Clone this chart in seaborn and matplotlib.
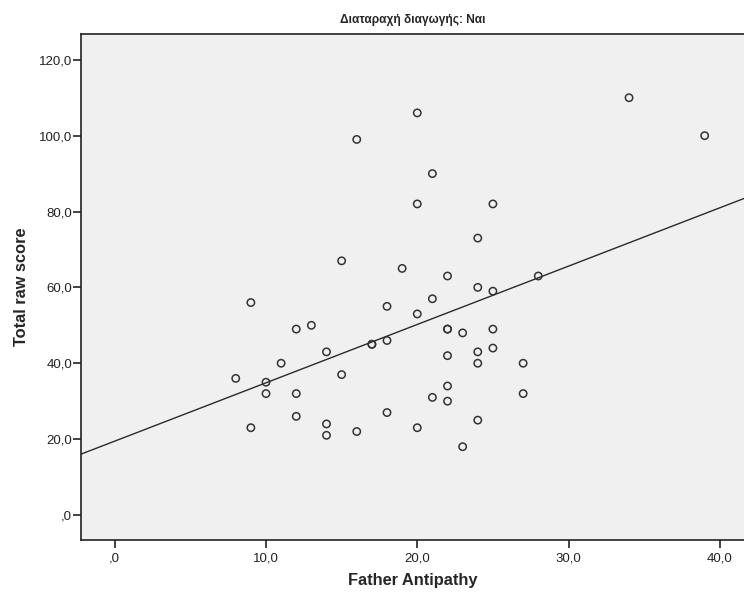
import numpy as np
import pandas as pd
import matplotlib
matplotlib.use("Agg")
import matplotlib.pyplot as plt
from matplotlib.ticker import FuncFormatter
import seaborn as sns

# Father Antipathy vs Total raw score (group: conduct disorder = yes)
father_antipathy = [8, 9, 9, 10, 10, 11, 12, 12, 12, 13, 14, 14, 14, 15, 15, 16, 16, 17, 17,
                    18, 18, 18, 19, 20, 20, 20, 20, 21, 21, 21, 22, 22, 22, 22, 22, 22,
                    23, 23, 24, 24, 24, 24, 24, 25, 25, 25, 25, 27, 27, 28, 34, 39]
total_raw_score = [36, 56, 23, 35, 32, 40, 49, 32, 26, 50, 43, 24, 21, 67, 37, 99, 22, 45, 45,
                   55, 46, 27, 65, 106, 82, 53, 23, 90, 57, 31, 63, 49, 49, 42, 34, 30,
                   48, 18, 73, 60, 43, 40, 25, 82, 59, 49, 44, 40, 32, 63, 110, 100]

x_ticks = [0, 10, 20, 30, 40]
y_ticks = [0, 20, 40, 60, 80, 100, 120]

df = pd.DataFrame({"Father Antipathy": father_antipathy,
                   "Total raw score": total_raw_score})

sns.set_style("white")
plt.rcParams['font.family'] = ['Liberation Sans', 'DejaVu Sans']


def spss_fmt(v, pos=None):
    s = f"{v:.1f}".replace(".", ",")
    if s.startswith("0,"):
        s = s[1:]
    return s


fig = plt.figure(figsize=(7.44, 5.98), dpi=100)
ax = fig.add_axes([81 / 744, 1 - 540 / 598, 1 - 81 / 744, (540 - 34) / 598])
ax.set_facecolor("#F0F0F0")
ax.set_xlim(-2.23, 41.6)
ax.set_ylim(-6.6, 126.8)

sns.regplot(data=df, x="Father Antipathy", y="Total raw score", ax=ax,
            ci=None, truncate=False, color="#333333",
            scatter_kws={"facecolors": "none", "edgecolors": "#333333",
                         "s": 28, "linewidths": 1.1, "alpha": 1, "zorder": 3},
            line_kws={"color": "#2a2a2a", "linewidth": 1.0, "zorder": 2})

ax.set_xlim(-2.23, 41.6)
ax.set_ylim(-6.6, 126.8)
ax.set_xticks(x_ticks)
ax.set_yticks(y_ticks)
ax.xaxis.set_major_formatter(FuncFormatter(spss_fmt))
ax.yaxis.set_major_formatter(FuncFormatter(spss_fmt))
ax.tick_params(axis="both", direction="out", length=5.5, width=1.2, color="#222222",
               labelsize=9.5, labelcolor="#222222")
ax.tick_params(axis="x", bottom=True, pad=3.5)
ax.tick_params(axis="y", left=True, pad=1)

for side in ["left", "bottom", "top"]:
    ax.spines[side].set_visible(True)
    ax.spines[side].set_color("#222222")
    ax.spines[side].set_linewidth(1.2)
ax.spines["right"].set_visible(False)

ax.set_xlabel("Father Antipathy", fontsize=11.8, fontweight="bold", labelpad=6)
ax.set_ylabel("Total raw score", fontsize=11.8, fontweight="bold", labelpad=7)
ax.set_title("Διαταραχή διαγωγής: Ναι", fontsize=8.6, fontweight="bold", pad=8)

fig.savefig("out.png", dpi=100)
plt.close(fig)
